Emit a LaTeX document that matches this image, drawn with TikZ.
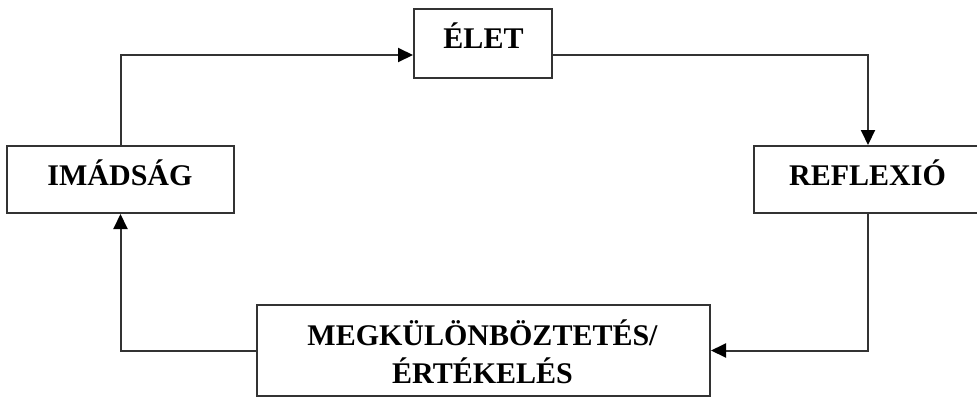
\documentclass[tikz,border=0pt]{standalone}
\usepackage{fontspec}
\setmainfont{Liberation Serif}
\usetikzlibrary{arrows.meta}
\begin{document}
\begin{tikzpicture}[x=1pt,y=-1pt,
  box/.style={draw=black!80,line width=2pt,fill=white,inner sep=0pt},
  lbl/.style={anchor=base,inner sep=0pt,font=\fontsize{30}{36}\selectfont\bfseries},
  conn/.style={draw=black!80,line width=2pt},
  arr/.style={conn,-{Triangle[length=15pt,width=14pt,color=black]}}]
\clip (0,0) rectangle (977,397);
\fill[white] (0,0) rectangle (977,397);
% boxes
\node[box,minimum width=138pt,minimum height=69pt] (elet) at (483,43.5) {};
\node[box,minimum width=227pt,minimum height=67pt] (imad) at (120.5,179.5) {};
\node[box,minimum width=228pt,minimum height=67pt] (refl) at (868,179.5) {};
\node[box,minimum width=453pt,minimum height=91pt] (bot) at (483.5,350.5) {};
% labels
\node[lbl] (eletT) at (483.5,48) {ÉLET};
\node[lbl] (imadT) at (120,185) {IMÁDSÁG};
\node[lbl] (reflT) at (867.5,185) {REFLEXIÓ};
\node[lbl] (botA) at (482.5,345) {MEGKÜLÖNBÖZTETÉS/};
\node[lbl] (botB) at (482.5,383) {ÉRTÉKELÉS};
% connectors
\coordinate (top) at (0,55);
\draw[arr] (imad.north) |- (elet.west |- top);
\draw[arr] (elet.east |- top) -| (refl.north);
\draw[arr] (refl.south) |- (bot.east);
\draw[arr] (bot.west) -| (imad.south);
\end{tikzpicture}
\end{document}
